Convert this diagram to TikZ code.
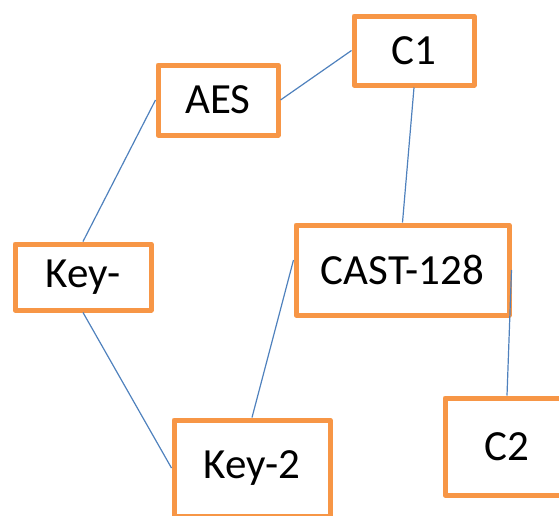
\documentclass[tikz,border=0pt]{standalone}
\usepackage{fontspec}
\setmainfont{Carlito}
\usepackage{tikz}
\definecolor{BoxOrange}{RGB}{247,150,70}
\definecolor{LineBlue}{RGB}{79,129,189}

\begin{document}
\begin{tikzpicture}[x=1pt, y=-1pt, Kasten/.style={draw=BoxOrange, line width=5pt, line join=round, fill=white, inner sep=0pt, font=\fontsize{43}{50}\selectfont}, Linie/.style={draw=LineBlue, line width=1.2pt}]
\useasboundingbox (0,0) rectangle (559,515);
\clip (0,0) rectangle (559,515);
\node (c1) at (414,50.5) [Kasten, minimum width=120pt, minimum height=69pt] {C1};
\node (aes) at (218,100) [Kasten, minimum width=120pt, minimum height=70pt] {AES};
\node (key1) at (83,277) [Kasten, minimum width=136pt, minimum height=66pt] {Key-};
\node (cast) at (402.5,270) [Kasten, minimum width=213pt, minimum height=90pt] {CAST-128};
\node (key2) at (252,468) [Kasten, minimum width=156pt, minimum height=96pt] {Key-2};
\node (c2) at (507,446.5) [Kasten, minimum width=124pt, minimum height=97pt] {C2};
\draw[Linie] (aes.east) -- (c1.west);
\draw[Linie] (aes.west) -- (key1.north);
\draw[Linie] (key1.south) -- (key2.west);
\draw[Linie] (c1.south) -- (cast.north);
\draw[Linie] ([yshift=10pt]cast.west) -- (key2.north);
\draw[Linie] (cast.east) -- (c2.north);
\end{tikzpicture}
\end{document}
